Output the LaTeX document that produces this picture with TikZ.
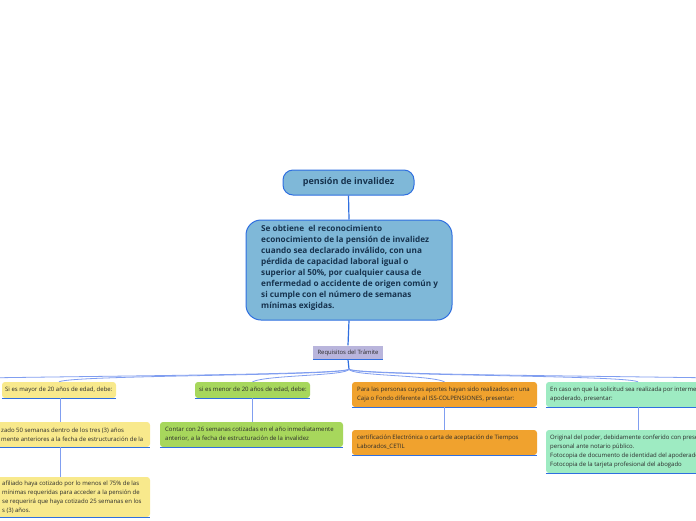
\documentclass[tikz,border=0pt]{standalone}
\usepackage{fontspec}
\setmainfont{Open Sans}
\definecolor{boxblue}{HTML}{7FB8D8}
\definecolor{edgeblue}{HTML}{2F6FE0}
\definecolor{navy}{HTML}{16324D}
\definecolor{lav}{HTML}{B9B5DC}
\definecolor{ylw}{HTML}{F8E98C}
\definecolor{grn}{HTML}{A7D75C}
\definecolor{org}{HTML}{F0A22E}
\definecolor{mint}{HTML}{9EEBC2}
\definecolor{link}{HTML}{809EF0}
\definecolor{txt}{HTML}{2B2B2B}
\tikzset{
  bigbox/.style={draw=edgeblue, line width=1pt, fill=boxblue, text=navy, font=\bfseries},
  leafbox/.style={fill=#1, rounded corners=3pt, inner sep=0pt},
  leaftext/.style={anchor=west, align=left, inner sep=0pt, text=txt, font=\fontsize{6}{9}\selectfont},
  bottomline/.style={draw=edgeblue, line width=1.3pt},
  mainline/.style={draw=edgeblue, line width=1.2pt},
  linkline/.style={draw=link, line width=0.8pt},
}
\begin{document}
\begin{tikzpicture}[x=1pt,y=-1pt]
\useasboundingbox (0,0) rectangle (696,520);
\clip (0,0) rectangle (696,520);
\fill[white] (0,0) rectangle (696,520);

% title
\node[bigbox, rounded corners=10pt, minimum width=131pt, minimum height=25pt, inner sep=0pt,
      font=\fontsize{9}{11}\selectfont\bfseries] (title) at (348.5,182.5) {pensión de invalidez};

% main box
\node[bigbox, rounded corners=15pt, minimum width=206pt, minimum height=100pt, inner sep=0pt] (main) at (349,270) {};
\node[anchor=north west, align=left, inner sep=0pt, text=navy,
      font=\fontsize{8.2}{11}\selectfont\bfseries] (maintext) at (261,225.5)
 {Se obtiene\ \ el reconocimiento\\
  econocimiento de la pensión de invalidez\\
  cuando sea declarado inválido, con una\\
  pérdida de capacidad laboral igual o\\
  superior al 50\%, por cualquier causa de\\
  enfermedad o accidente de origen común y\\
  si cumple con el número de semanas\\
  mínimas exigidas.};

% requisitos
\node[fill=lav, minimum width=70pt, minimum height=14pt, inner sep=0pt, text=txt,
      font=\fontsize{5.9}{7}\selectfont] (rq) at (348,352.5) {Requisitos del Trámite};
\draw[bottomline] (rq.south west) -- (rq.south east);

\draw[mainline] (title.south) -- (main.north);
\draw[mainline] (main.south) -- (rq.north);
\coordinate (hub) at (349,369);
\draw[mainline] (rq.south) -- (hub);

% level 1 boxes
\node[leafbox=ylw, minimum width=114pt, minimum height=16pt] (y1) at (59,390) {};
\node[leaftext] (y1t) at (5,390) {Si es mayor de 20 años de edad, debe:};
\node[leafbox=grn, minimum width=115pt, minimum height=16pt] (g1) at (252.5,390) {};
\node[leaftext] (g1t) at (199,390) {si es menor de 20 años de edad, debe:};
\node[leafbox=org, minimum width=185pt, minimum height=25pt] (o1) at (444.5,394.5) {};
\node[leaftext] (o1t) at (357,394.5) {Para las personas cuyos aportes hayan sido realizados en una\\Caja o Fondo diferente al ISS-COLPENSIONES, presentar:};
\node[leafbox=mint, minimum width=184pt, minimum height=25pt] (m1) at (638,394.5) {};
\node[leaftext] (m1t) at (550,394.5) {En caso en que la solicitud sea realizada por intermedio de\\apoderado, presentar:};
\foreach \n in {y1,g1,o1,m1}{\draw[bottomline] (\n.south west) -- (\n.south east);}

% off-page siblings
\coordinate (offl) at (-160,383);
\coordinate (offr) at (860,383);

% fan of connectors
\draw[linkline] (hub) .. controls +(0,7) and +(14,-7) .. (y1.north);
\draw[linkline] (hub) .. controls +(0,7) and +(14,-7) .. (g1.north);
\draw[linkline] (hub) .. controls +(0,7) and +(-14,-7) .. (o1.north);
\draw[linkline] (hub) .. controls +(0,7) and +(-14,-7) .. (m1.north);
\draw[linkline] (hub) .. controls +(0,8) and +(14,-7) .. (offl);
\draw[linkline] (hub) .. controls +(0,8) and +(-14,-7) .. (offr);

% level 2 boxes
\node[leafbox=ylw, minimum width=162pt, minimum height=25pt] (y2) at (69,434.5) {};
\node[leaftext] (y2t) at (1,434.5) {zado 50 semanas dentro de los tres (3) años\\mente anteriores a la fecha de estructuración de la};
\node[leafbox=ylw, minimum width=162pt, minimum height=40pt] (y3) at (69,497) {};
\node[leaftext] (y3t) at (2,497.5) {afiliado haya cotizado por lo menos el 75\% de las\\mínimas requeridas para acceder a la pensión de\\se requerirá que haya cotizado 25 semanas en los\\s (3) años.};
\node[leafbox=grn, minimum width=183pt, minimum height=25pt] (g2) at (251.5,434.5) {};
\node[leaftext] (g2t) at (165,434.5) {Contar con 26 semanas cotizadas en el año inmediatamente\\anterior, a la fecha de estructuración de la invalidez};
\node[leafbox=org, minimum width=185pt, minimum height=25pt] (o2) at (444.5,442.5) {};
\node[leaftext] (o2t) at (357,442.5) {certificación Electrónica o carta de aceptación de Tiempos\\Laborados\_CETIL};
\node[leafbox=mint, minimum width=184pt, minimum height=43pt] (m2) at (638,451.5) {};
\node[leaftext] (m2t) at (550,451.5) {Original del poder, debidamente conferido con presentación\\personal ante notario público.\\Fotocopia de documento de identidad del apoderado\\Fotocopia de la tarjeta profesional del abogado};
\foreach \n in {y2,y3,g2,o2,m2}{\draw[bottomline] (\n.south west) -- (\n.south east);}

% vertical links
\draw[linkline] (y1.south -| 60,0) -- (y2.north -| 60,0);
\draw[linkline] (y2.south -| 60,0) -- (y3.north -| 60,0);
\draw[linkline] (g1.south) -- (g1.south |- g2.north);
\draw[linkline] (o1.south) -- (o1.south |- o2.north);
\draw[linkline] (m1.south) -- (m1.south |- m2.north);
\end{tikzpicture}
\end{document}
